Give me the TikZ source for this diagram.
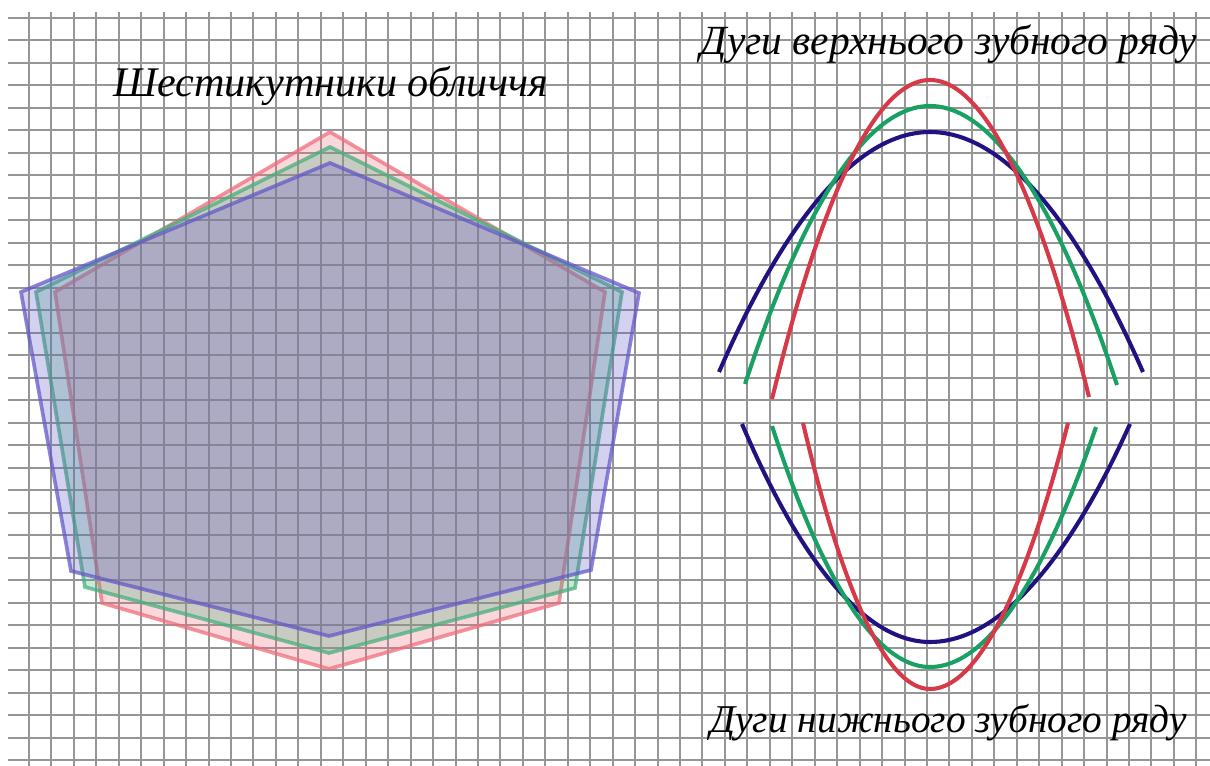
\documentclass[tikz,border=0pt]{standalone}
\usepackage{fontspec}
\setmainfont{Liberation Serif}
\usepackage{tikz}
\usetikzlibrary{positioning, calc}

\definecolor{hexred}{RGB}{238,110,125}
\definecolor{hexgreen}{RGB}{70,175,125}
\definecolor{hexblue}{RGB}{100,90,200}
\definecolor{arcred}{RGB}{214,58,72}
\definecolor{arcgreen}{RGB}{25,160,100}
\definecolor{arcblue}{RGB}{32,18,128}
\definecolor{gridgray}{RGB}{150,150,150}

\begin{document}
\begin{tikzpicture}[x=0.025cm, y=-0.025cm,
    gridline/.style={gridgray, line width=0.05cm},
    hexagon/.style={line width=2.6pt, line join=miter, draw opacity=0.75, fill opacity=0.28},
    arcline/.style={line width=2.9pt},
    caption/.style={font=\fontsize{30}{33}\selectfont\itshape, inner sep=0pt}]

\useasboundingbox (0,0) rectangle (1210,766);

% Squared paper
\foreach \i in {0,...,52}
    \draw[gridline] ({round(29+22.45*\i)},12) -- ({round(29+22.45*\i)},766);
\foreach \j in {0,...,33}
    \draw[gridline] (8,{round(17.5+22.5*\j)}) -- (1210,{round(17.5+22.5*\j)});

% Panel 1: face hexagons
\draw[hexagon, draw=hexred, fill=hexred]
    (330,132) -- (605,292) -- (559,603) -- (329,669) -- (102,603) -- (55,292) -- cycle;
\draw[hexagon, draw=hexgreen, fill=hexgreen]
    (330,147) -- (622,292) -- (575,588) -- (329,653) -- (85,587) -- (36,292) -- cycle;
\draw[hexagon, draw=hexblue, fill=hexblue]
    (330,163) -- (639,293) -- (591,570) -- (329,636) -- (71,571) -- (21,292) -- cycle;

\node[caption, anchor=base] (hextitle) at (330.5,97) {Шестикутники обличчя};

% Panel 2: upper arcs
\draw[arcline, arcblue]  (719,372) parabola bend (930,132) (1143,372);
\draw[arcline, arcgreen] (745,384) parabola bend (930,106) (1117,385);
\draw[arcline, arcred]   (772,399) parabola bend (930,80) (1089,397);

\node[caption, anchor=base, font=\fontsize{29.5}{33}\selectfont\itshape] (uppertitle) at (949,55) {Дуги верхнього зубного ряду};

% Panel 3: lower arcs
\draw[arcline, arcblue]  (742,424) parabola bend (930,642) (1130,424);
\draw[arcline, arcgreen] (772,426) parabola bend (930,667) (1096,427);
\draw[arcline, arcred]   (803,423) parabola bend (930,689) (1068,423);

\node[caption, anchor=base, font=\fontsize{28}{31}\selectfont\itshape] (lowertitle) at (948.5,732) {Дуги нижнього зубного ряду};

\end{tikzpicture}
\end{document}
